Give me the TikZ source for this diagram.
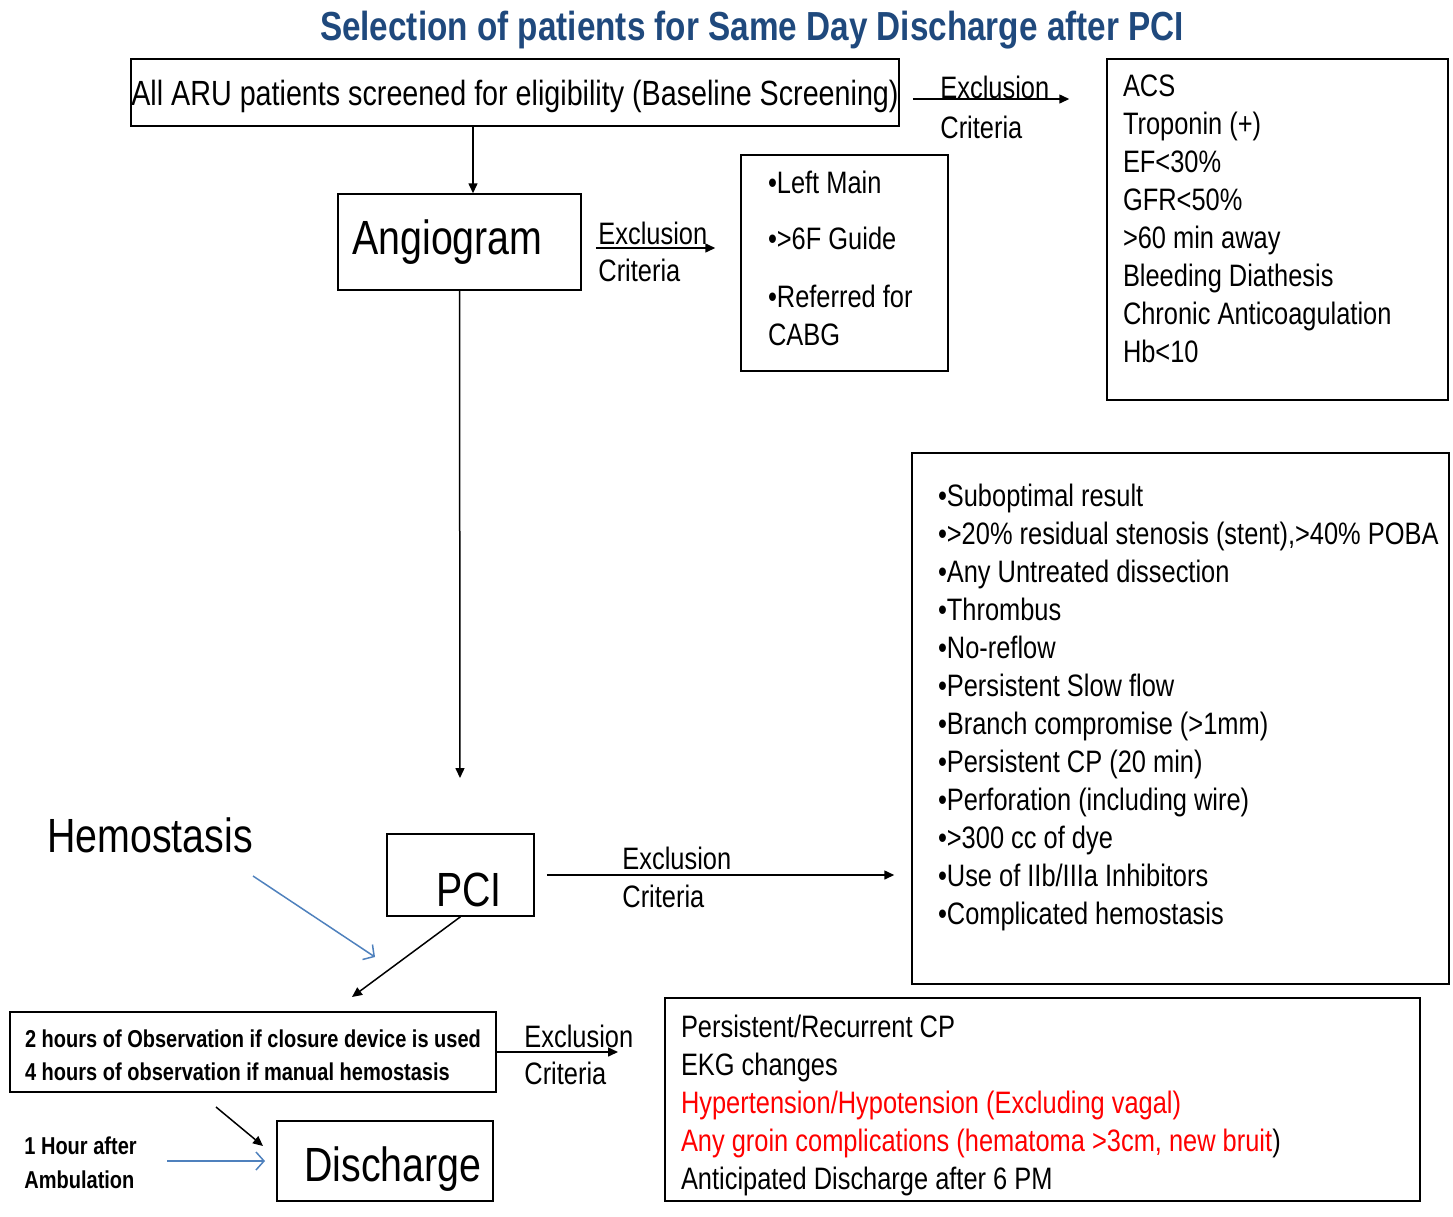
\documentclass[tikz,border=0pt]{standalone}
\usepackage{fontspec}
\setmainfont{Liberation Sans}[FakeStretch=0.82]
\usetikzlibrary{arrows.meta}
\definecolor{titleblue}{RGB}{31,73,125}
\definecolor{arrowblue}{RGB}{79,129,189}
\definecolor{critred}{RGB}{255,0,0}

\begin{document}
\begin{tikzpicture}[x=0.5pt,y=-0.5pt,
  box/.style={draw=black,line width=0.75pt,rectangle,inner sep=0pt},
  listbox/.style={box,align=flush left,font=\fontsize{15.5}{19}\selectfont},
  bigtext/.style={font=\fontsize{24}{28}\selectfont},
  lbl/.style={anchor=west,inner sep=0pt,font=\fontsize{15.5}{19}\selectfont}]
\useasboundingbox (0,0) rectangle (1453,1217);

    \node[font=\bfseries\fontsize{20.3}{24}\selectfont,text=titleblue] (title) at (752,30)
        {Selection of patients for Same Day Discharge after PCI};

% boxes
    \node[box,minimum width=384pt,minimum height=33.5pt,text depth=0pt,font=\fontsize{17.5}{21}\selectfont]
        (screen) at (515,92.5) {All ARU patients screened for eligibility (Baseline Screening)};
    \node[listbox,text width=154.5pt,inner xsep=8pt,minimum height=170.5pt,text height=0pt]
        (acs) at (1277.5,229.5) {ACS\\ Troponin (+)\\ EF<30\%\\ GFR<50\%\\ >60 min away\\
        Bleeding Diathesis\\ \mbox{Chronic Anticoagulation}\\ Hb<10};
    \node[box,bigtext,minimum width=121.5pt,minimum height=48pt] (angio) at (459.5,242) {Angiogram\hspace*{12pt}};
    \node[listbox,text width=76.5pt,inner xsep=13.5pt,minimum height=108pt,text height=6.3pt]
        (guide) at (844.5,263) {•Left Main\\[9pt] •>6F Guide\\[10pt] •Referred for\\ CABG};
    \node[box,bigtext,minimum width=73.5pt,minimum height=41pt,text height=31.5pt]
        (pci) at (460.5,875) {\hspace*{8.5pt}PCI};
    \node[listbox,text width=242.5pt,inner xsep=13pt,minimum height=265.5pt,text height=0pt]
        (proc) at (1180.5,718.5) {•Suboptimal result\\ \mbox{•>20\% residual stenosis (stent),>40\% POBA}\\
        •Any Untreated dissection\\ •Thrombus\\ •No-reflow\\ •Persistent Slow flow\\
        •Branch compromise (>1mm)\\ •Persistent CP (20 min)\\ •Perforation (including wire)\\
        •>300 cc of dye\\ •Use of IIb/IIIa Inhibitors\\ •Complicated hemostasis};
    \node[box,align=left,minimum width=243pt,minimum height=40pt,text height=29pt,
          font=\bfseries\fontsize{12.2}{16.5}\selectfont]
        (obs) at (253,1052) {2 hours of Observation if closure device is used\\
        4 hours of observation if manual hemostasis};
    \node[listbox,text width=361.5pt,inner xsep=8pt,minimum height=101.5pt,text height=17.3pt]
        (late) at (1042.5,1099.5) {Persistent/Recurrent CP\\ EKG changes\\
        \textcolor{critred}{Hypertension/Hypotension (Excluding vagal)}\\
        \textcolor{critred}{Any groin complications (hematoma >3cm, new bruit})\\
        Anticipated Discharge after 6 PM};
    \node[box,bigtext,minimum width=108pt,minimum height=40pt,text height=25.5pt]
        (discharge) at (385,1161) {\hspace*{8pt}Discharge};

% free texts
    \node[bigtext] (hemo) at (150,835) {Hemostasis};
    \node[anchor=west,inner sep=0pt,align=left,font=\bfseries\fontsize{12.2}{17}\selectfont]
        (ambul) at (24,1163) {1 Hour after\\ Ambulation};

    \node[lbl] (ex1) at (940,87) {Exclusion};
    \node[lbl] (cr1) at (940,127) {Criteria};
    \node[lbl] (ex2) at (598,233) {Exclusion};
    \node[lbl] (cr2) at (598,270) {Criteria};
    \node[lbl] (ex3) at (622,858) {Exclusion};
    \node[lbl] (cr3) at (622,896) {Criteria};
    \node[lbl] (ex4) at (524,1036) {Exclusion};
    \node[lbl] (cr4) at (524,1073) {Criteria};

% arrow ends
    \coordinate (col) at (473,0);
    \coordinate (row1) at (0,99);
    \coordinate (row2) at (0,248);
    \coordinate (pciin) at (460,778);
    \coordinate (obsin) at (352,997);
    \coordinate (obsout) at (618,1052);
    \coordinate (hA) at (253,876);
    \coordinate (hB) at (375,957);
    \coordinate (dA) at (216,1107);
    \coordinate (dB) at (263,1146);
    \coordinate (aA) at (167,1161);
    \coordinate (aB) at (265,1161);

\begin{scope}[every edge/.style={draw=black,line width=0.75pt,-{Triangle[length=5pt,width=4.5pt]}}]
    \path (screen.south -| col) edge (angio.north -| col);
    \path [shorten <=6.5pt,shorten >=18.5pt] (screen.east |- row1) edge (acs.west |- row1);
    \path [shorten <=7pt,shorten >=12.5pt] (angio.east |- row2) edge (guide.west |- row2);
    \path (angio.south) edge (pciin);
    \path [shorten <=6pt,shorten >=8.5pt] (pci.east) edge (pci.east -| proc.west);
    \path (pci.south) edge (obsin);
    \path (obs.east) edge (obsout);
    \path (dA) edge (dB);
\end{scope}

\begin{scope}[every edge/.style={draw=arrowblue,line width=0.75pt,-{Straight Barb[length=4pt,width=9pt]}}]
    \path (hA) edge (hB);
    \path (aA) edge (aB);
\end{scope}
\end{tikzpicture}
\end{document}
